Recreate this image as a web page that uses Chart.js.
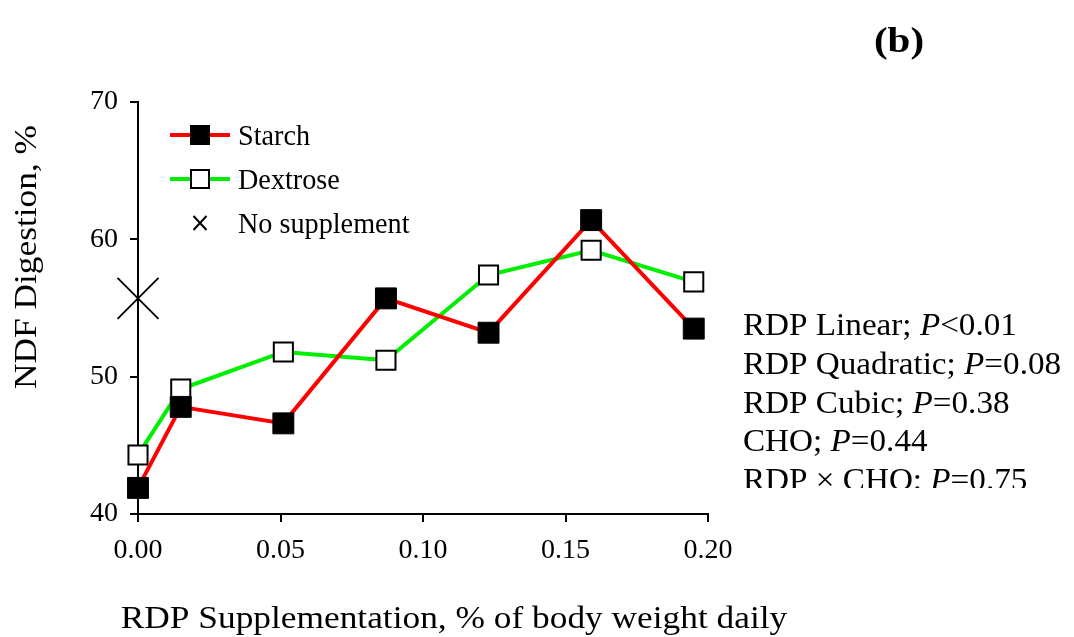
<!DOCTYPE html>
<html>
<head>
<meta charset="utf-8">
<script src="https://cdn.jsdelivr.net/npm/chart.js@4"></script>
<style>
  html, body { margin: 0; padding: 0; background: #fff; }
  #wrap { width: 1074px; height: 637px; position: relative; }
</style>
</head>
<body>
<div id="wrap"><canvas id="ndfChart" width="1074" height="637"></canvas></div>
<script>
// data
var doseX = [0, 0.015, 0.051, 0.087, 0.123, 0.159, 0.195]
var starch = [41.9, 47.8, 46.6, 55.7, 53.2, 61.4, 53.5]
var dextrose = [44.3, 49.1, 51.8, 51.2, 57.4, 59.2, 56.9]
var noSuppX = [0]
var noSupp = [55.7]
var seriesNames = ["Starch", "Dextrose", "No supplement"]
var xTicks = [0, 0.05, 0.1, 0.15, 0.2]
var yTicks = [40, 50, 60, 70]
var statLines = [
  ["RDP Linear; ", "P", "<0.01"],
  ["RDP Quadratic; ", "P", "=0.08"],
  ["RDP Cubic; ", "P", "=0.38"],
  ["CHO; ", "P", "=0.44"],
  ["RDP \u00d7 CHO: ", "P", "=0.75"],
]

function toPoints(xs, ys) {
  var out = []
  for (var i = 0; i < xs.length; i++) out.push({ x: xs[i], y: ys[i] })
  return out
}

var SERIF = "'Liberation Serif', 'Times New Roman', serif"

// stretched text, to get closer to the wide Palatino look of the original
function wideText(ctx, text, x, y, font, stretch, align) {
  ctx.save()
  ctx.font = font
  var w = ctx.measureText(text).width * stretch
  var left = align === "center" ? x - w / 2 : x
  ctx.translate(left, y)
  ctx.scale(stretch, 1)
  ctx.textAlign = "left"
  ctx.fillText(text, 0, 0)
  ctx.restore()
  return w
}

var extrasPlugin = {
  id: "extras",
  afterDraw: function (chart) {
    var ctx = chart.ctx
    ctx.save()
    ctx.fillStyle = "#000"
    ctx.textBaseline = "alphabetic"

    // panel letter
    wideText(ctx, "(b)", 899, 52, "bold 36px " + SERIF, 1.14, "center")

    // axis titles
    wideText(ctx, "RDP Supplementation, % of body weight daily", 454, 628, "31px " + SERIF, 1.14, "center")
    ctx.save()
    ctx.translate(36, 257)
    ctx.rotate(-Math.PI / 2)
    wideText(ctx, "NDF Digestion, %", 0, 0, "31px " + SERIF, 1.14, "center")
    ctx.restore()

    // statistics, last line is cut off in the original
    ctx.save()
    ctx.beginPath()
    ctx.rect(700, 280, 374, 208)
    ctx.clip()
    for (var i = 0; i < statLines.length; i++) {
      var y = 335 + i * 38.8
      var x = 743
      x += wideText(ctx, statLines[i][0], x, y, "31px " + SERIF, 1.07)
      x += wideText(ctx, statLines[i][1], x, y, "italic 31px " + SERIF, 1.07)
      wideText(ctx, statLines[i][2], x, y, "31px " + SERIF, 1.07)
    }
    ctx.restore()

    // legend
    var rows = [135, 179, 223]
    var ds = chart.data.datasets
    for (var r = 0; r < rows.length; r++) {
      var ly = rows[r]
      if (r < 2) {
        ctx.strokeStyle = ds[r].borderColor
        ctx.lineWidth = 4
        ctx.beginPath()
        ctx.moveTo(170, ly)
        ctx.lineTo(230, ly)
        ctx.stroke()
        ctx.fillStyle = ds[r].pointBackgroundColor
        ctx.fillRect(191, ly - 9, 18, 18)
        ctx.strokeStyle = "#000"
        ctx.lineWidth = 2
        ctx.strokeRect(191, ly - 9, 18, 18)
      } else {
        ctx.strokeStyle = "#000"
        ctx.lineWidth = 2
        ctx.beginPath()
        ctx.moveTo(193.5, ly - 7)
        ctx.lineTo(206.5, ly + 7)
        ctx.moveTo(206.5, ly - 7)
        ctx.lineTo(193.5, ly + 7)
        ctx.stroke()
      }
      ctx.fillStyle = "#000"
      wideText(ctx, seriesNames[r], 238, ly + 10, "30px " + SERIF, 0.94)
    }
    ctx.restore()
  },
}

var ctx = document.getElementById("ndfChart").getContext("2d")

new Chart(ctx, {
  type: "line",
  data: {
    datasets: [
      {
        label: seriesNames[0],
        data: toPoints(doseX, starch),
        borderColor: "#ff0000",
        borderWidth: 4,
        pointStyle: "rect",
        pointRadius: 14.8,
        pointBackgroundColor: "#000",
        pointBorderColor: "#000",
        pointBorderWidth: 1,
        tension: 0,
        clip: false,
        order: 0,
      },
      {
        label: seriesNames[1],
        data: toPoints(doseX, dextrose),
        borderColor: "#00ee00",
        borderWidth: 4,
        pointStyle: "rect",
        pointRadius: 13.5,
        pointBackgroundColor: "#fff",
        pointBorderColor: "#000",
        pointBorderWidth: 2,
        tension: 0,
        clip: false,
        order: 1,
      },
      {
        label: seriesNames[2],
        data: toPoints(noSuppX, noSupp),
        showLine: false,
        borderColor: "#000",
        pointStyle: "crossRot",
        pointRadius: 29,
        pointBorderColor: "#000",
        pointBorderWidth: 1.8,
        clip: false,
        order: 2,
      },
    ],
  },
  options: {
    responsive: false,
    animation: false,
    layout: {
      padding: { left: 60, right: 366, top: 102, bottom: 0 },
    },
    plugins: {
      legend: { display: false },
      tooltip: { enabled: false },
    },
    scales: {
      x: {
        type: "linear",
        min: 0,
        max: 0.2,
        afterFit: function (scale) { scale.height = 123 },
        afterBuildTicks: function (scale) {
          scale.ticks = xTicks.map(function (v) { return { value: v } })
        },
        ticks: {
          color: "#000",
          font: { family: SERIF, size: 28 },
          padding: 12,
          maxRotation: 0,
          callback: function (v) { return Number(v).toFixed(2) },
        },
        grid: {
          drawOnChartArea: false,
          tickLength: 8,
          tickColor: "#000",
          lineWidth: 2,
        },
        border: { color: "#000", width: 2 },
      },
      y: {
        min: 40,
        max: 70,
        afterFit: function (scale) { scale.width = 78 },
        afterBuildTicks: function (scale) {
          scale.ticks = yTicks.map(function (v) { return { value: v } })
        },
        ticks: {
          color: "#000",
          font: { family: SERIF, size: 28 },
          padding: 12,
        },
        grid: {
          drawOnChartArea: false,
          tickLength: 8,
          tickColor: "#000",
          lineWidth: 2,
        },
        border: { color: "#000", width: 2 },
      },
    },
  },
  plugins: [extrasPlugin],
})
</script>
</body>
</html>
